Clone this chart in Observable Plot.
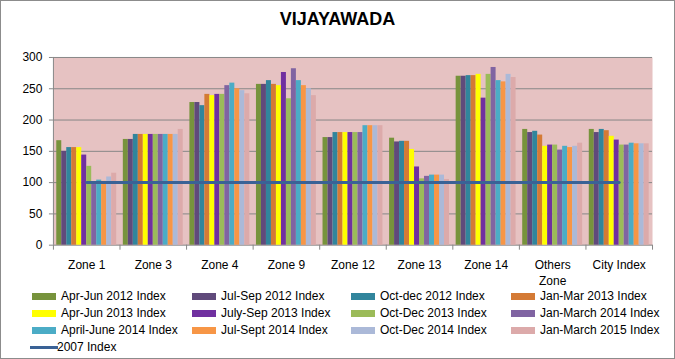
<!DOCTYPE html>
<html>
<head>
<meta charset="utf-8">
<script src="https://cdn.jsdelivr.net/npm/d3@7"></script>
<script src="https://cdn.jsdelivr.net/npm/@observablehq/plot@0.6"></script>
<style>
  html, body { margin: 0; padding: 0; background: #fff; }
  #chart { position: relative; width: 675px; height: 359px; box-sizing: border-box; border: 1px solid #8c8c8c; background: #fff; font-family: "Liberation Sans", Arial, sans-serif; overflow: hidden; }
  #title { position: absolute; left: -1px; top: 7px; width: 675px; text-align: center; font-size: 18px; font-weight: bold; line-height: 22px; color: #000; }
  #plot { position: absolute; left: -1px; top: 39px; }
  .lg { position: absolute; font-size: 12px; line-height: 14px; color: #000; white-space: nowrap; }
  .sw { position: absolute; width: 24px; height: 7px; }
</style>
</head>
<body>
<div id="chart">
  <div id="title">VIJAYAWADA</div>
  <div id="plot"></div>
</div>
<script>
// ---- data ----
const zones = ["Zone 1", "Zone 3", "Zone 4", "Zone 9", "Zone 12", "Zone 13", "Zone 14", "Others\nZone", "City Index"];
const seriesNames = [
  "Apr-Jun 2012 Index", "Jul-Sep 2012 Index", "Oct-dec 2012 Index", "Jan-Mar 2013 Index",
  "Apr-Jun 2013 Index", "July-Sep 2013 Index", "Oct-Dec 2013 Index", "Jan-March 2014 Index",
  "April-June 2014 Index", "Jul-Sept 2014 Index", "Oct-Dec 2014 Index", "Jan-March 2015 Index"
];
const aprJun2012  = [167, 169, 228, 257, 172, 171, 270, 185, 185];
const julSep2012  = [150, 169, 228, 257, 172, 165, 270, 180, 180];
const octDec2012  = [156, 177, 223, 263, 180, 166, 271, 182, 185];
const janMar2013  = [156, 177, 241, 257, 180, 166, 271, 176, 183];
const aprJun2013  = [156, 177, 239, 255, 180, 153, 273, 158, 174];
const julSep2013  = [144, 177, 241, 276, 180, 125, 235, 160, 168];
const octDec2013  = [126, 177, 241, 234, 180, 106, 273, 160, 160];
const janMar2014  = [100, 177, 255, 282, 180, 110, 284, 152, 160];
const aprJun2014  = [104, 177, 259, 263, 191, 112, 263, 158, 163];
const julSep2014  = [102, 177, 250, 255, 191, 112, 261, 156, 162];
const octDec2014  = [109, 177, 247, 250, 191, 112, 273, 158, 162];
const janMar2015  = [115, 185, 242, 239, 191, 105, 268, 163, 162];
const index2007   = [100, 100, 100, 100, 100, 100, 100, 100, 100];
const yTicks = [0, 50, 100, 150, 200, 250, 300];

const seriesValues = [aprJun2012, julSep2012, octDec2012, janMar2013, aprJun2013, julSep2013,
  octDec2013, janMar2014, aprJun2014, julSep2014, octDec2014, janMar2015];
const colors = ["#77933c", "#604a7b", "#31859c", "#d47a35", "#ffff00", "#7030a0",
  "#9bbb59", "#8064a2", "#4bacc6", "#f79646", "#abb9d8", "#dcaaaa"];
const lineColor = "#3a6296";

// ---- table ----
const table = [];
seriesValues.forEach((vals, si) => vals.forEach((v, zi) => table.push({series: seriesNames[si], si, zi, value: v})));
const lineData = index2007.map((v, zi) => ({zi, value: v}));

const nS = seriesNames.length;
const groupWidth = 0.9;
const barW = groupWidth / nS;

const chart = Plot.plot({
  width: 675,
  height: 245,
  marginTop: 17,
  marginBottom: 40,
  marginLeft: 53,
  marginRight: 22,
  style: {fontFamily: "'Liberation Sans', Arial, sans-serif", fontSize: "12px", color: "#000", background: "transparent", overflow: "visible"},
  x: {type: "linear", domain: [-0.5, zones.length - 0.5]},
  y: {domain: [0, 300]},
  color: {domain: seriesNames, range: colors},
  marks: [
    Plot.frame({fill: "#e6c2c2", stroke: "none"}),
    Plot.ruleY(yTicks, {stroke: "#878787", strokeWidth: 1}),
    Plot.rectY(table, {
      x1: d => d.zi - groupWidth / 2 + d.si * barW,
      x2: d => d.zi - groupWidth / 2 + (d.si + 1) * barW,
      y: "value",
      fill: "series"
    }),
    Plot.lineY(lineData, {x: "zi", y: "value", stroke: lineColor, strokeWidth: 3}),
    Plot.ruleX([-0.5], {stroke: "#878787"}),
    Plot.axisY({ticks: yTicks, tickSize: 4, tickPadding: 7, stroke: "#878787", label: null}),
    Plot.axisX({ticks: d3.range(-0.5, zones.length, 1), tickSize: 5, tickFormat: () => "", stroke: "#878787", label: null}),
    Plot.axisX({ticks: d3.range(0, zones.length), tickSize: 0, tickPadding: 13, tickFormat: i => zones[i], lineHeight: 1.33, label: null})
  ]
});
document.getElementById("plot").appendChild(chart);

// ---- legend ----
const chartDiv = document.getElementById("chart");
const colX = [32, 192, 351, 511];
const rowY = [296, 313, 330, 347];
seriesNames.forEach((name, k) => {
  const c = k % 4, r = Math.floor(k / 4);
  const sw = document.createElement("div");
  sw.className = "sw";
  sw.style.left = (colX[c] - 1) + "px";
  sw.style.top = (rowY[r] - 4) + "px";
  sw.style.background = colors[k];
  chartDiv.appendChild(sw);
  const t = document.createElement("div");
  t.className = "lg";
  t.textContent = name;
  t.style.left = (colX[c] + 28) + "px";
  t.style.top = (rowY[r] - 8) + "px";
  chartDiv.appendChild(t);
});
const lsw = document.createElement("div");
lsw.className = "sw";
lsw.style.left = (colX[0] - 3) + "px";
lsw.style.top = (rowY[3] - 2) + "px";
lsw.style.width = "28px";
lsw.style.height = "3px";
lsw.style.background = lineColor;
chartDiv.appendChild(lsw);
const lt = document.createElement("div");
lt.className = "lg";
lt.textContent = "2007 Index";
lt.style.left = (colX[0] + 24) + "px";
lt.style.top = (rowY[3] - 8) + "px";
chartDiv.appendChild(lt);
</script>
</body>
</html>
